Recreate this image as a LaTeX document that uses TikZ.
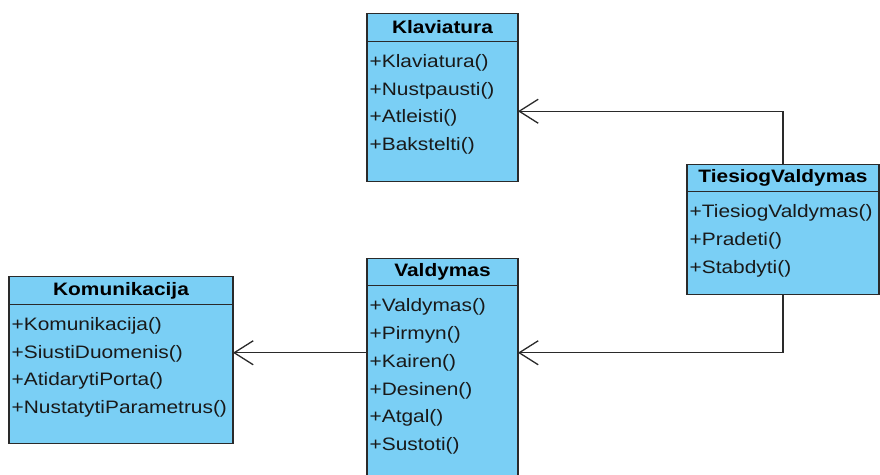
\documentclass[tikz,border=0pt]{standalone}
\usepackage{fontspec}
\setmainfont{Liberation Sans}[FakeStretch=1.16]
\usepackage{tikz}
\usetikzlibrary{arrows.meta,positioning,calc}
\definecolor{umlfill}{HTML}{7ACFF5}
\definecolor{umlline}{HTML}{2A2A2A}
\tikzset{
  head/.style   = {draw=umlline, line width=1.3pt, fill=umlfill, minimum height=27.5pt,
                   inner sep=0pt, outer sep=0pt, font=\fontsize{18}{22}\selectfont\bfseries},
  body/.style   = {draw=umlline, line width=1.3pt, fill=umlfill, inner sep=0pt, outer sep=0pt},
  op/.style     = {anchor=base west, inner sep=0pt, font=\fontsize{18}{22}\selectfont, text=black!90},
  assoc/.style  = {draw=umlline, line width=1.3pt, -{Straight Barb[length=19pt,width=24pt]}},
}

\begin{document}
\begin{tikzpicture}[x=1pt,y=-1pt]
  \useasboundingbox (0,0) rectangle (880,474);
  \clip (0,0) rectangle (880,474);
  % classes
  \node[head, minimum width=151pt] (kla) at (442.5,27.5) {Klaviatura};
  \node[body, below=0pt of kla, minimum width=151pt, minimum height=140pt] (klab) {};
  \node[head, minimum width=192pt] (tv) at (783,178) {TiesiogValdymas};
  \node[body, below=0pt of tv, minimum width=192pt, minimum height=103pt] (tvb) {};
  \node[head, minimum width=151pt] (val) at (442.5,272) {Valdymas};
  \node[body, below=0pt of val, minimum width=151pt, minimum height=230pt] (valb) {};
  \node[head, minimum width=224pt] (kom) at (121,290.5) {Komunikacija};
  \node[body, below=0pt of kom, minimum width=224pt, minimum height=139pt] (komb) {};
  % operations
  \foreach \op [count=\i] in {Klaviatura(),Nustpausti(),Atleisti(),Bakstelti()}
    \node[op] (kla-\i) at ($(klab.north west)+(2.5,27.8*\i-1.8)$) {+\op};
  \foreach \op [count=\i] in {TiesiogValdymas(),Pradeti(),Stabdyti()}
    \node[op] (tv-\i) at ($(tvb.north west)+(2.5,27.8*\i-1.8)$) {+\op};
  \foreach \op [count=\i] in {Valdymas(),Pirmyn(),Kairen(),Desinen(),Atgal(),Sustoti()}
    \node[op] (val-\i) at ($(valb.north west)+(2.5,27.8*\i-1.8)$) {+\op};
  \foreach \op [count=\i] in {Komunikacija(),SiustiDuomenis(),AtidarytiPorta(),NustatytiParametrus()}
    \node[op] (kom-\i) at ($(komb.north west)+(2.5,27.8*\i-1.8)$) {+\op};
  % associations
  \coordinate (valin) at ($(valb.north east)+(0,67)$);
  \coordinate (valout) at ($(valb.north west)+(0,67)$);
  \draw[assoc] (tv.north) |- (klab.east);
  \draw[assoc] (tvb.south) |- (valin);
  \draw[assoc] (valout) -- (valout -| komb.east);
\end{tikzpicture}
\end{document}
